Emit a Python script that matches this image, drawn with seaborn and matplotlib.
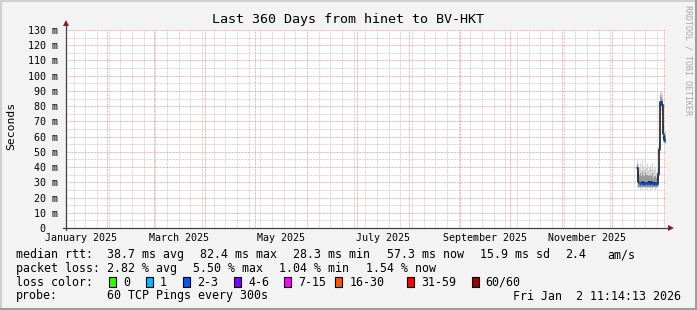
import matplotlib
matplotlib.use("Agg")
import numpy as np
import pandas as pd
import matplotlib.pyplot as plt
import matplotlib.dates as mdates
import matplotlib.ticker as mticker
import seaborn as sns
from matplotlib.patches import Rectangle, Polygon
from matplotlib.lines import Line2D

# ---------------- data ----------------
END_TIME = pd.Timestamp("2026-01-02 11:14:13")
SPAN_DAYS = 360

sample_times = [
    "2025-12-16 00:00", "2025-12-16 12:00", "2025-12-17 00:00", "2025-12-17 12:00",
    "2025-12-18 00:00", "2025-12-18 12:00", "2025-12-19 00:00", "2025-12-19 12:00",
    "2025-12-20 00:00", "2025-12-20 12:00", "2025-12-21 00:00", "2025-12-21 12:00",
    "2025-12-22 00:00", "2025-12-22 12:00", "2025-12-23 00:00", "2025-12-23 12:00",
    "2025-12-24 00:00", "2025-12-24 12:00", "2025-12-25 00:00", "2025-12-25 12:00",
    "2025-12-26 00:00", "2025-12-26 12:00", "2025-12-27 00:00", "2025-12-27 12:00",
    "2025-12-28 00:00", "2025-12-28 12:00", "2025-12-29 00:00", "2025-12-29 12:00",
    "2025-12-30 00:00", "2025-12-30 12:00", "2025-12-31 00:00", "2025-12-31 12:00",
    "2026-01-01 00:00", "2026-01-01 12:00", "2026-01-02 00:00",
]
median_ms = [39.5, 30.0, 29.5, 29.5, 29.0, 29.5, 30.0, 29.0, 29.5, 29.0,
             29.5, 29.5, 29.0, 29.5, 30.5, 29.5, 29.0, 30.5, 29.5, 29.0,
             29.5, 29.0, 29.5, 29.0, 29.0, 35.5, 45.0, 52.0, 83.0, 82.4,
             81.0, 62.0, 59.0, 57.5, 57.3]
lost_pings = [2, 2, 2, 1, 2, 2, 2, 2, 2, 2, 2, 2, 2, 2, 2, 2, 2, 5, 2, 2,
              2, 2, 2, 2, 2, 2, 2, 2, 2, 2, 2, 1, 1, 2, 1]
smoke_outer_hi = [45, 42, 44, 40, 43, 38, 45, 41, 43, 39, 44, 40, 42, 38, 44, 40, 41, 39, 43, 38,
                  42, 39, 40, 37, 40, 42, 50, 58, 90, 89, 88, 75, 72, 68, 64]
smoke_outer_lo = [26, 26, 25, 26, 25, 26, 25, 26, 25, 26, 25, 26, 25, 26, 25, 26, 25, 26, 25, 26,
                  25, 26, 25, 26, 26, 30, 40, 47, 78, 77, 75, 56, 55, 54, 55]
smoke_inner_hi = [42, 36, 37, 35, 36, 34, 37, 35, 36, 34, 37, 35, 35, 34, 37, 35, 35, 34, 36, 33,
                  35, 34, 34, 33, 34, 38, 47, 55, 87, 86, 85, 68, 65, 62, 61]
smoke_inner_lo = [33, 27, 27, 27, 27, 27, 27, 27, 27, 27, 27, 27, 27, 27, 27, 27, 27, 27, 27, 27,
                  27, 27, 27, 27, 27, 33, 43, 50, 80, 80, 78, 59, 57, 56, 56]

loss_labels = ["0", "1", "2-3", "4-6", "7-15", "16-30", "31-59", "60/60"]
loss_colors = ["#26ff00", "#00b8ff", "#0059ff", "#7e00ff", "#ff00ff", "#ff5500", "#ff0000", "#a10000"]
loss_upper = [0, 1, 3, 6, 15, 30, 59, 60]

y_ticks = [0, 10, 20, 30, 40, 50, 60, 70, 80, 90, 100, 110, 120, 130]
month_labels = ["January 2025", "March 2025", "May 2025", "July 2025", "September 2025", "November 2025"]
month_label_months = ["2025-01", "2025-03", "2025-05", "2025-07", "2025-09", "2025-11"]

title = "Last 360 Days from hinet to BV-HKT"
legend_rows = [
    [(16, "median rtt:"), (107, "38.7 ms avg"), (200, "82.4 ms max"), (293, "28.3 ms min"),
     (386.5, "57.3 ms now"), (479.5, "15.9 ms sd"), (565, "2.4"), (607.5, "am/s")],
    [(16, "packet loss:"), (107, "2.82 % avg"), (193.3, "5.50 % max"), (279.3, "1.04 % min"),
     (365.7, "1.54 % now")],
    [(16, "loss color:")],
    [(16, "probe:"), (107, "60 TCP Pings every 300s")],
]
loss_legend_x = [109, 146, 182.7, 234, 284.3, 335.3, 407.3, 471.7]
timestamp = "Fri Jan  2 11:14:13 2026"

# ---------------- figure ----------------
W, H = 697, 310
sns.set_style("white")
plt.rcParams["font.family"] = ["DejaVu Sans Mono", "DejaVu Sans"]

fig = plt.figure(figsize=(W / 100, H / 100), dpi=100, facecolor="#F3F3F3")

def fx(px):
    return px / W

def fy(py):
    return 1 - py / H

# 3D frame
fig.add_artist(Line2D([fx(0), fx(W)], [fy(0.5), fy(0.5)], color="#CFCFCF", lw=1.5))
fig.add_artist(Line2D([fx(0.5), fx(0.5)], [fy(0), fy(H)], color="#CFCFCF", lw=1.5))
fig.add_artist(Line2D([fx(0), fx(W)], [fy(H - 1), fy(H - 1)], color="#9E9E9E", lw=1.5))
fig.add_artist(Line2D([fx(W - 1), fx(W - 1)], [fy(0), fy(H)], color="#9E9E9E", lw=1.5))

x0, x1, ytop, ybot = 66, 666, 30, 228
ax = fig.add_axes([fx(x0), fy(ybot), (x1 - x0) / W, (ybot - ytop) / H])
ax.set_facecolor("white")

t = pd.to_datetime(sample_times)
t_ext = list(t) + [END_TIME]

def ext(v):
    return list(v) + [v[-1]]

ax.fill_between(t_ext, ext(smoke_outer_lo), ext(smoke_outer_hi), step="post",
                color="#D4D4D4", lw=0, zorder=2)
ax.fill_between(t_ext, ext(smoke_inner_lo), ext(smoke_inner_hi), step="post",
                color="#9A9A9A", lw=0, zorder=3)

df = pd.DataFrame({"time": t_ext, "median": ext(median_ms)})
sns.lineplot(data=df, x="time", y="median", drawstyle="steps-post", color="#202020",
             lw=1.2, ax=ax, zorder=4, estimator=None, sort=False)

def loss_index(n):
    for i, u in enumerate(loss_upper):
        if n <= u:
            return i
    return len(loss_upper) - 1

for i in range(len(median_ms)):
    ax.hlines(median_ms[i], t_ext[i], t_ext[i + 1], color=loss_colors[loss_index(lost_pings[i])],
              lw=2.0, zorder=5)

start = END_TIME - pd.Timedelta(days=SPAN_DAYS)
ax.set_xlim(start, END_TIME)
ax.set_ylim(0, 130)
ax.set_xlabel("")
ax.set_ylabel("")

# grids
ax.xaxis.set_major_locator(mdates.MonthLocator(bymonthday=1))
ax.xaxis.set_minor_locator(mdates.WeekdayLocator(byweekday=mdates.SU))
ax.xaxis.set_major_formatter(mticker.NullFormatter())
ax.yaxis.set_major_locator(mticker.FixedLocator(y_ticks))
ax.yaxis.set_minor_locator(mticker.MultipleLocator(5))
ax.set_yticklabels([f"{v} m" if v else "0  " for v in y_ticks])

dot = (0, (0.72, 0.72))
ax.grid(which="major", axis="both", color="#F29A9A", lw=0.72, linestyle=dot, zorder=1)
ax.grid(which="minor", axis="both", color="#C8C8C8", lw=0.72, linestyle=dot, zorder=0.9)
ax.set_axisbelow(True)
ax.tick_params(axis="x", which="both", length=0)
ax.tick_params(axis="y", which="major", length=2, width=0.7, color="#404040", pad=4,
               labelsize=7.2, labelcolor="black", direction="out")
ax.tick_params(axis="y", which="minor", length=2, width=0.7, color="#A0A0A0", direction="out")
for lab in ax.get_yticklabels():
    lab.set_family("DejaVu Sans Mono")
for s in ax.spines.values():
    s.set_visible(False)

# month labels at mid-month
for lbl, m in zip(month_labels, month_label_months):
    ms = pd.Timestamp(m + "-01")
    me = ms + pd.offsets.MonthBegin(1)
    mid = ms + (me - ms) / 2
    ax.text(mid, -0.053, lbl, transform=ax.get_xaxis_transform(), ha="center", va="center",
            fontsize=7.2, family="DejaVu Sans Mono", color="black", clip_on=False)

# axis lines with arrows
axis_col = "#404040"
arrow_col = "#8B1A1A"
fig.add_artist(Line2D([fx(x0), fx(x0)], [fy(ybot + 2), fy(24)], color=axis_col, lw=0.9))
fig.add_artist(Line2D([fx(x0 - 3), fx(670)], [fy(ybot), fy(ybot)], color=axis_col, lw=0.9))
fig.add_artist(Polygon([[fx(x0 - 3), fy(26)], [fx(x0 + 3), fy(26)], [fx(x0), fy(20)]],
                       closed=True, color=arrow_col, lw=0))
fig.add_artist(Polygon([[fx(668), fy(ybot - 3)], [fx(668), fy(ybot + 3)], [fx(674), fy(ybot)]],
                       closed=True, color=arrow_col, lw=0))

# title / y label / watermark
fig.text(fx(348.5), fy(19.5), title, ha="center", va="center", fontsize=9.6,
         family="DejaVu Sans Mono", color="black")
fig.text(fx(11), fy(126), "Seconds", ha="center", va="center", rotation=90, fontsize=8.2,
         family="DejaVu Sans Mono", color="black")
fig.text(fx(688), fy(60), "RRDTOOL / TOBI OETIKER", ha="center", va="center", rotation=-90,
         fontsize=6.0, family="DejaVu Sans Mono", color="#A8A8A8")

# legend
row_y = [254.5, 268.5, 282.0, 296.0]
for row, yy in zip(legend_rows, row_y):
    for xx, txt in row:
        fig.text(fx(xx), fy(yy), txt, ha="left", va="center", fontsize=8.4,
                 family="DejaVu Sans Mono", color="black")
for xx, lbl, col in zip(loss_legend_x, loss_labels, loss_colors):
    fig.add_artist(Rectangle((fx(xx), fy(282 + 5)), 7 / W, 10 / H, facecolor=col,
                             edgecolor="black", lw=0.8, transform=fig.transFigure))
    fig.text(fx(xx + 14), fy(282), lbl, ha="left", va="center", fontsize=8.4,
             family="DejaVu Sans Mono", color="black")
fig.text(fx(681), fy(296), timestamp, ha="right", va="center", fontsize=8.4,
         family="DejaVu Sans Mono", color="black")

fig.savefig("out.png", dpi=100, facecolor=fig.get_facecolor())
